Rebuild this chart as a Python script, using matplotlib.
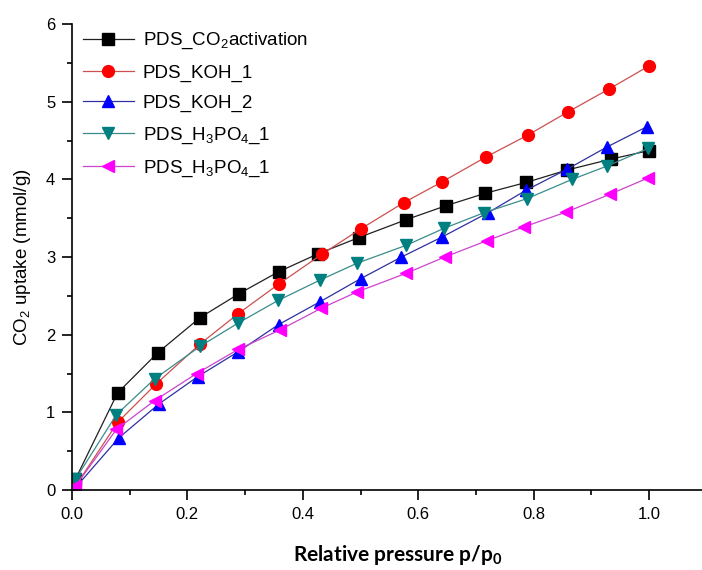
import matplotlib
matplotlib.use("Agg")
import matplotlib.pyplot as plt
from matplotlib.ticker import MultipleLocator

plt.rcParams['font.family'] = ['Liberation Sans', 'DejaVu Sans']
plt.rcParams['mathtext.fontset'] = 'custom'
plt.rcParams['mathtext.rm'] = 'Liberation Sans'
plt.rcParams['mathtext.it'] = 'Liberation Sans'
plt.rcParams['mathtext.bf'] = 'Lato:bold'

# ---- data ----
labels = ["PDS_CO$_2$activation", "PDS_KOH_1", "PDS_KOH_2",
          "PDS_H$_3$PO$_4$_1", "PDS_H$_3$PO$_4$_1"]

x_co2 = [0.006, 0.079, 0.149, 0.222, 0.290, 0.358, 0.426, 0.497, 0.579, 0.648, 0.716, 0.787, 0.858, 0.934, 1.0]
y_co2 = [0.14, 1.25, 1.77, 2.22, 2.53, 2.81, 3.04, 3.25, 3.48, 3.66, 3.82, 3.96, 4.12, 4.26, 4.37]

x_koh1 = [0.006, 0.079, 0.145, 0.222, 0.288, 0.358, 0.434, 0.500, 0.575, 0.642, 0.718, 0.790, 0.860, 0.930, 1.0]
y_koh1 = [0.05, 0.87, 1.36, 1.88, 2.27, 2.65, 3.04, 3.36, 3.70, 3.97, 4.29, 4.57, 4.87, 5.16, 5.46]

x_koh2 = [0.006, 0.081, 0.151, 0.218, 0.288, 0.358, 0.429, 0.500, 0.571, 0.642, 0.721, 0.787, 0.858, 0.928, 0.997]
y_koh2 = [0.03, 0.67, 1.11, 1.46, 1.78, 2.13, 2.42, 2.72, 3.00, 3.26, 3.57, 3.86, 4.13, 4.42, 4.68]

x_h3po4a = [0.006, 0.077, 0.143, 0.222, 0.288, 0.357, 0.429, 0.494, 0.579, 0.645, 0.714, 0.788, 0.867, 0.927, 0.999]
y_h3po4a = [0.14, 0.97, 1.43, 1.85, 2.15, 2.44, 2.70, 2.92, 3.15, 3.37, 3.57, 3.75, 4.00, 4.17, 4.40]

x_h3po4b = [0.006, 0.077, 0.143, 0.216, 0.288, 0.360, 0.432, 0.494, 0.579, 0.646, 0.719, 0.784, 0.857, 0.933, 0.999]
y_h3po4b = [0.05, 0.78, 1.15, 1.50, 1.81, 2.06, 2.34, 2.55, 2.79, 3.00, 3.21, 3.39, 3.58, 3.81, 4.02]

series = [
    (x_co2, y_co2, 's', 'black', '#202020', 8),
    (x_koh1, y_koh1, 'o', '#ff0000', '#cc5050', 8.5),
    (x_koh2, y_koh2, '^', '#0000ff', '#3030a0', 9),
    (x_h3po4a, y_h3po4a, 'v', '#008080', '#3a8c8c', 9),
    (x_h3po4b, y_h3po4b, '<', '#ff00ff', '#cc44cc', 9),
]

fig = plt.figure(figsize=(7.02, 5.70), dpi=100)
ax = fig.add_axes([72/702, 80/570, 630/702, 466/570])

for (xs, ys, m, mc, lc, ms), lab in zip(series, labels):
    ax.plot(xs, ys, color=lc, lw=0.9, marker=m, markersize=ms,
            markerfacecolor=mc, markeredgecolor=mc, label=lab)

ax.set_xlim(0, 630/577)
ax.set_ylim(0, 6)
ax.set_xticks([0.0, 0.2, 0.4, 0.6, 0.8, 1.0])
ax.set_xticklabels(["0.0", "0.2", "0.4", "0.6", "0.8", "1.0"])
ax.xaxis.set_minor_locator(MultipleLocator(0.1))
ax.set_yticks([0, 1, 2, 3, 4, 5, 6])
ax.yaxis.set_minor_locator(MultipleLocator(0.5))

for s in ['top', 'right']:
    ax.spines[s].set_visible(False)
for s in ['left', 'bottom']:
    ax.spines[s].set_linewidth(1.2)

ax.tick_params(which='major', direction='out', length=7, width=1.2, labelsize=12, pad=5)
ax.tick_params(which='minor', direction='out', length=3.6, width=1.2)

ax.set_ylabel("CO$_2$ uptake (mmol/g)", fontsize=13.5)
ax.yaxis.set_label_coords(-0.062, 0.5)

ax.set_xlabel("Relative pressure p/p$_{\\mathbf{0}}$", fontsize=15,
              fontfamily='Lato', fontweight='bold')
ax.xaxis.set_label_coords((398 - 72) / 630, -0.113)

leg = ax.legend(loc='upper left', bbox_to_anchor=(11/630, 0.985), frameon=False,
                fontsize=13.5, handlelength=2.7, handletextpad=0.5,
                borderaxespad=0, borderpad=0, labelspacing=0.7)

fig.savefig("out.png", dpi=100)
